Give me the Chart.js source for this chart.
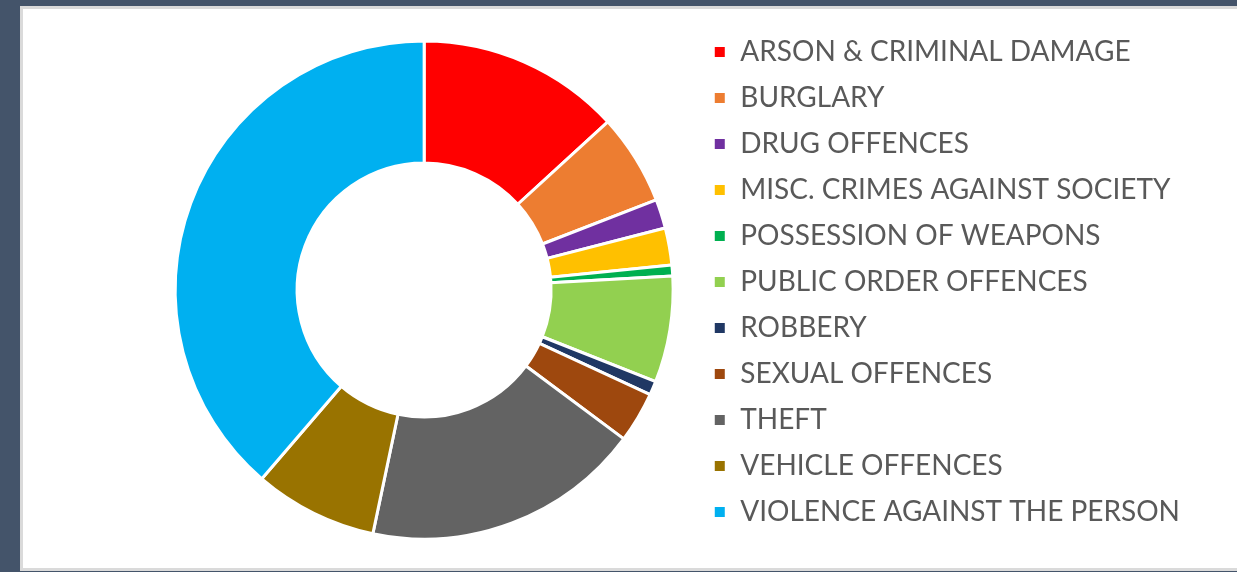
<!DOCTYPE html>
<html>
<head>
<meta charset="utf-8">
<script src="https://cdn.jsdelivr.net/npm/chart.js@4"></script>
<style>
  html,body{margin:0;padding:0;}
  body{width:1237px;height:572px;background:#44546a;overflow:hidden;position:relative;}
  #panel{position:absolute;left:20px;top:6px;width:1240px;height:559px;background:#fff;border:3px solid #dadada;}
  #wrap{position:absolute;left:0;top:0;width:1237px;height:572px;}
</style>
</head>
<body>
<div id="panel"></div>
<div id="wrap"><canvas id="chart"></canvas></div>
<script>
// crime categories, share of total (%)
const categories = [
  'ARSON & CRIMINAL DAMAGE',
  'BURGLARY',
  'DRUG OFFENCES',
  'MISC. CRIMES AGAINST SOCIETY',
  'POSSESSION OF WEAPONS',
  'PUBLIC ORDER OFFENCES',
  'ROBBERY',
  'SEXUAL OFFENCES',
  'THEFT',
  'VEHICLE OFFENCES',
  'VIOLENCE AGAINST THE PERSON'
];
const shares = [13.2, 5.9, 1.9, 2.4, 0.7, 6.9, 0.9, 3.3, 18.1, 8.0, 38.7];
const sliceColors = ['#ff0000','#ed7d31','#7030a0','#ffc000','#00b050','#92d050',
                     '#203864','#9e480e','#636363','#997300','#00b0f0'];

const ctx = document.getElementById('chart').getContext('2d');
new Chart(ctx, {
  type: 'doughnut',
  data: {
    labels: categories,
    datasets: [{
      data: shares,
      backgroundColor: sliceColors,
      borderColor: '#ffffff',
      borderWidth: 3,
      radius: 249
    }]
  },
  options: {
    responsive: true,
    maintainAspectRatio: false,
    animation: false,
    cutout: '51%',
    layout: { padding: { left: 153, top: 20, bottom: 12, right: 47 } },
    plugins: {
      legend: {
        position: 'right',
        align: 'start',
        labels: {
          boxWidth: 13,
          boxHeight: 13,
          padding: 18,
          color: '#595959',
          font: { family: 'Lato', size: 28 }
        }
      },
      tooltip: { enabled: false }
    }
  }
});
</script>
</body>
</html>
